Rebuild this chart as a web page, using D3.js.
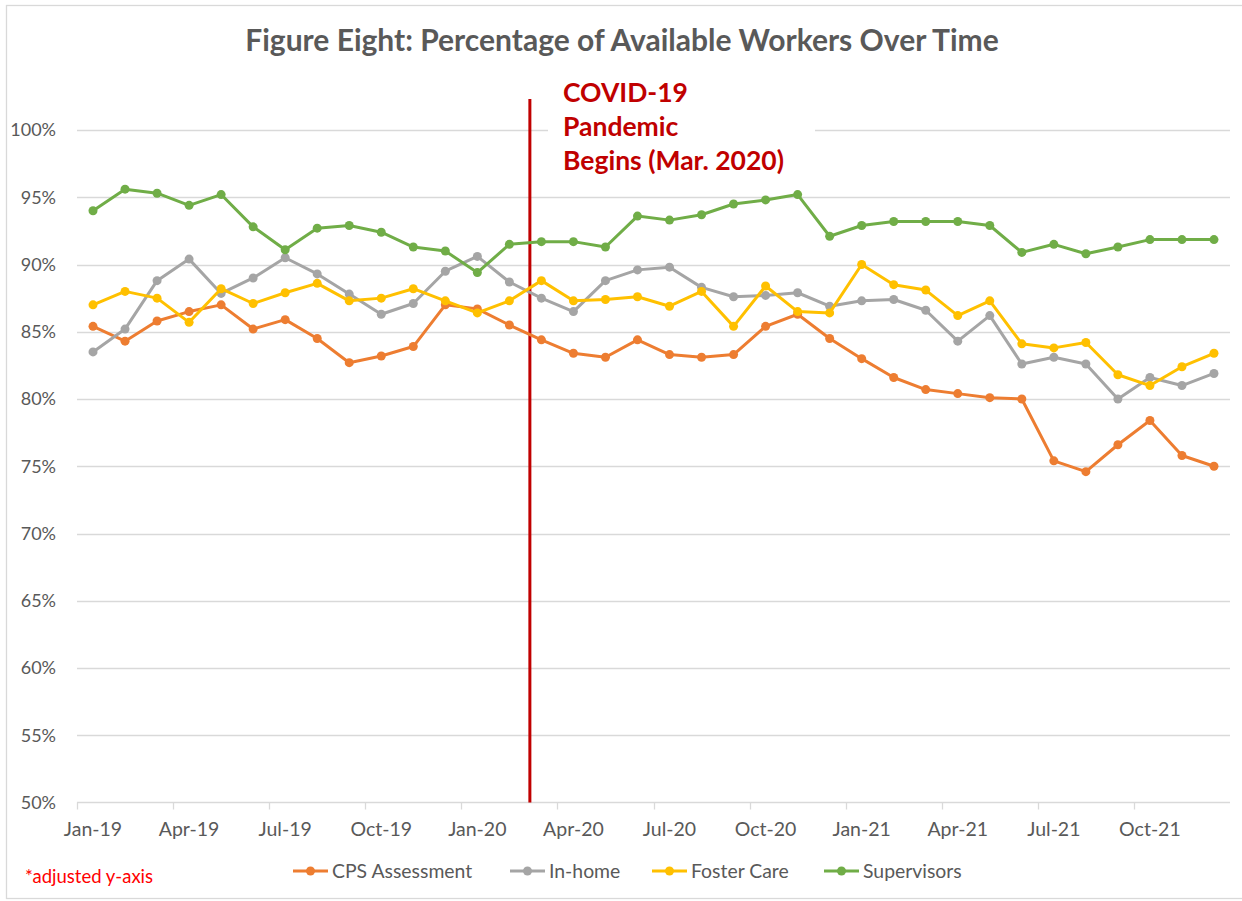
<!DOCTYPE html>
<html>
<head>
<meta charset="utf-8">
<script src="https://cdn.jsdelivr.net/npm/d3@7"></script>
<style>
    html, body { margin: 0; padding: 0; background: #fff; }
    svg { display: block; }
</style>
</head>
<body>
<svg id="canvas" width="1242" height="901"></svg>
<script>
// categories
var months = ['Jan-19', 'Feb-19', 'Mar-19', 'Apr-19', 'May-19', 'Jun-19', 'Jul-19', 'Aug-19', 'Sep-19', 'Oct-19', 'Nov-19', 'Dec-19',
    'Jan-20', 'Feb-20', 'Mar-20', 'Apr-20', 'May-20', 'Jun-20', 'Jul-20', 'Aug-20', 'Sep-20', 'Oct-20', 'Nov-20', 'Dec-20',
    'Jan-21', 'Feb-21', 'Mar-21', 'Apr-21', 'May-21', 'Jun-21', 'Jul-21', 'Aug-21', 'Sep-21', 'Oct-21', 'Nov-21', 'Dec-21'];
var tickMonths = ['Jan-19', 'Apr-19', 'Jul-19', 'Oct-19', 'Jan-20', 'Apr-20', 'Jul-20', 'Oct-20', 'Jan-21', 'Apr-21', 'Jul-21', 'Oct-21'];
var yTicks = [50, 55, 60, 65, 70, 75, 80, 85, 90, 95, 100];

// series values (percent)
var cpsAssessment = [85.4, 84.3, 85.8, 86.5, 87.0, 85.2, 85.9, 84.5, 82.7, 83.2, 83.9, 87.0,
    86.7, 85.5, 84.4, 83.4, 83.1, 84.4, 83.3, 83.1, 83.3, 85.4, 86.3, 84.5,
    83.0, 81.6, 80.7, 80.4, 80.1, 80.0, 75.4, 74.6, 76.6, 78.4, 75.8, 75.0];
var inHome = [83.5, 85.2, 88.8, 90.4, 87.85, 89.0, 90.5, 89.3, 87.8, 86.3, 87.1, 89.5,
    90.6, 88.7, 87.5, 86.5, 88.8, 89.6, 89.8, 88.3, 87.6, 87.7, 87.9, 86.9,
    87.3, 87.4, 86.6, 84.3, 86.2, 82.6, 83.1, 82.6, 80.0, 81.6, 81.0, 81.9];
var fosterCare = [87.0, 88.0, 87.5, 85.7, 88.2, 87.1, 87.9, 88.6, 87.3, 87.5, 88.2, 87.3,
    86.4, 87.3, 88.8, 87.3, 87.4, 87.6, 86.9, 88.0, 85.4, 88.4, 86.5, 86.4,
    90.0, 88.5, 88.1, 86.2, 87.3, 84.1, 83.8, 84.2, 81.8, 81.0, 82.4, 83.4];
var supervisors = [94.0, 95.6, 95.3, 94.4, 95.2, 92.8, 91.1, 92.7, 92.9, 92.4, 91.3, 91.0,
    89.4, 91.5, 91.7, 91.7, 91.3, 93.6, 93.3, 93.7, 94.5, 94.8, 95.2, 92.1,
    92.9, 93.2, 93.2, 93.2, 92.9, 90.9, 91.5, 90.8, 91.3, 91.85, 91.85, 91.85];

var seriesNames = ['CPS Assessment', 'In-home', 'Foster Care', 'Supervisors'];
var seriesColors = ['#ED7D31', '#A5A5A5', '#FFC000', '#70AD47'];

// covid marker sits between Feb-20 (13) and Mar-20 (14), in month-index units
var covidMonthIndex = 13.64;
var covidLineTop = 102.3;
var covidLabel = ['COVID-19', 'Pandemic', 'Begins (Mar. 2020)'];

function drawChart() {
    "use strict";

    var FONT = 'Lato, "Open Sans", sans-serif';
    var TEXT_GREY = '#595959';
    var GRID_GREY = '#D9D9D9';

    var svg = d3.select(document.getElementById('canvas'));

    var PLOT_LEFT = 77;
    var PLOT_RIGHT = 1230;
    var PLOT_TOP = 130;
    var PLOT_BOTTOM = 802.5;

    var x = d3.scaleBand()
        .domain(months)
        .range([PLOT_LEFT, PLOT_RIGHT])
        .padding(0);
    var xMid = function(m) { return x(m) + x.bandwidth() / 2; };
    // month index -> centre of that month
    var xIndex = d3.scaleLinear()
        .domain([-0.5, months.length - 0.5])
        .range([PLOT_LEFT, PLOT_RIGHT]);

    var y = d3.scaleLinear()
        .domain([50, 100])
        .range([PLOT_BOTTOM, PLOT_TOP]);

    // chart border
    svg.append('rect')
        .attr('x', 6.5)
        .attr('y', 5.5)
        .attr('width', 1240)
        .attr('height', 893)
        .attr('fill', 'none')
        .attr('stroke', GRID_GREY)
        .attr('stroke-width', 1.3);

    // title
    svg.append('text')
        .attr('x', 622)
        .attr('y', 51)
        .attr('text-anchor', 'middle')
        .attr('font-family', FONT)
        .attr('font-weight', 'bold')
        .attr('font-size', '30px')
        .attr('fill', TEXT_GREY)
        .text('Figure Eight: Percentage of Available Workers Over Time');

    // gridlines
    svg.append('g')
        .selectAll('line')
        .data(yTicks.slice(1))
        .enter().append('line')
        .attr('x1', PLOT_LEFT)
        .attr('x2', PLOT_RIGHT)
        .attr('y1', function(d) { return Math.round(y(d)) + 0.5; })
        .attr('y2', function(d) { return Math.round(y(d)) + 0.5; })
        .attr('stroke', GRID_GREY)
        .attr('stroke-width', 1.5);

    // y axis labels
    var yAxis = d3.axisLeft(y)
        .tickValues(yTicks)
        .tickSize(0)
        .tickPadding(0)
        .tickFormat(function(d) { return d + '%'; });
    var yG = svg.append('g')
        .attr('transform', 'translate(56,0)')
        .call(yAxis);
    yG.select('.domain').remove();
    yG.selectAll('text')
        .attr('font-family', FONT)
        .attr('font-size', '18px')
        .attr('fill', TEXT_GREY);

    // x axis: ticks on category edges, labels on category centres
    var xAxisG = svg.append('g')
        .attr('transform', 'translate(0,' + PLOT_BOTTOM + ')');
    xAxisG.append('line')
        .attr('x1', PLOT_LEFT)
        .attr('x2', PLOT_RIGHT)
        .attr('y1', 0)
        .attr('y2', 0)
        .attr('stroke', GRID_GREY)
        .attr('stroke-width', 1.5);
    xAxisG.selectAll('line.tick')
        .data(tickMonths)
        .enter().append('line')
        .attr('class', 'tick')
        .attr('x1', function(d) { return Math.round(x(d)) + 0.5; })
        .attr('x2', function(d) { return Math.round(x(d)) + 0.5; })
        .attr('y1', 0)
        .attr('y2', 7)
        .attr('stroke', GRID_GREY)
        .attr('stroke-width', 1.3);
    xAxisG.selectAll('text')
        .data(tickMonths)
        .enter().append('text')
        .attr('x', function(d) { return xMid(d); })
        .attr('y', 33)
        .attr('text-anchor', 'middle')
        .attr('font-family', FONT)
        .attr('font-size', '19.5px')
        .attr('fill', TEXT_GREY)
        .text(function(d) { return d; });

    // covid line
    svg.append('line')
        .attr('x1', xIndex(covidMonthIndex))
        .attr('x2', xIndex(covidMonthIndex))
        .attr('y1', y(covidLineTop))
        .attr('y2', y(50))
        .attr('stroke', '#C00000')
        .attr('stroke-width', 3);

    // covid label box (white, covers the 100% gridline)
    svg.append('rect')
        .attr('x', 548)
        .attr('y', 74)
        .attr('width', 267)
        .attr('height', 110)
        .attr('fill', '#fff');
    svg.append('g')
        .selectAll('text')
        .data(covidLabel)
        .enter().append('text')
        .attr('x', 563)
        .attr('y', function(d, i) { return 102 + i * 34; })
        .attr('font-family', FONT)
        .attr('font-weight', 'bold')
        .attr('font-size', '26.5px')
        .attr('fill', '#C00000')
        .text(function(d) { return d; });

    // series
    var allSeries = [cpsAssessment, inHome, fosterCare, supervisors];
    var line = d3.line()
        .x(function(d, i) { return xMid(months[i]); })
        .y(function(d) { return y(d); });

    var seriesG = svg.append('g')
        .selectAll('g')
        .data(allSeries)
        .enter().append('g');
    seriesG.append('path')
        .attr('d', line)
        .attr('fill', 'none')
        .attr('stroke', function(d, i) { return seriesColors[i]; })
        .attr('stroke-width', 3)
        .attr('stroke-linejoin', 'round');
    seriesG.each(function(values, si) {
        d3.select(this).selectAll('circle')
            .data(values)
            .enter().append('circle')
            .attr('cx', function(d, i) { return xMid(months[i]); })
            .attr('cy', function(d) { return y(d); })
            .attr('r', 4.5)
            .attr('fill', seriesColors[si]);
    });

    // legend
    var legendX = [293, 510, 652, 824];
    var legend = svg.append('g')
        .selectAll('g')
        .data(seriesNames)
        .enter().append('g')
        .attr('transform', function(d, i) { return 'translate(' + legendX[i] + ',871)'; });
    legend.append('line')
        .attr('x1', 0)
        .attr('x2', 35)
        .attr('y1', 0)
        .attr('y2', 0)
        .attr('stroke', function(d, i) { return seriesColors[i]; })
        .attr('stroke-width', 3);
    legend.append('circle')
        .attr('cx', 17.5)
        .attr('cy', 0)
        .attr('r', 4.5)
        .attr('fill', function(d, i) { return seriesColors[i]; });
    legend.append('text')
        .attr('x', 39)
        .attr('y', 6.5)
        .attr('font-family', FONT)
        .attr('font-size', '19.4px')
        .attr('fill', TEXT_GREY)
        .text(function(d) { return d; });

    // footnote
    svg.append('text')
        .attr('x', 25)
        .attr('y', 883)
        .attr('font-family', FONT)
        .attr('font-size', '18.5px')
        .attr('fill', '#FF0000')
        .text('*adjusted y-axis');
}

drawChart();
</script>
</body>
</html>
